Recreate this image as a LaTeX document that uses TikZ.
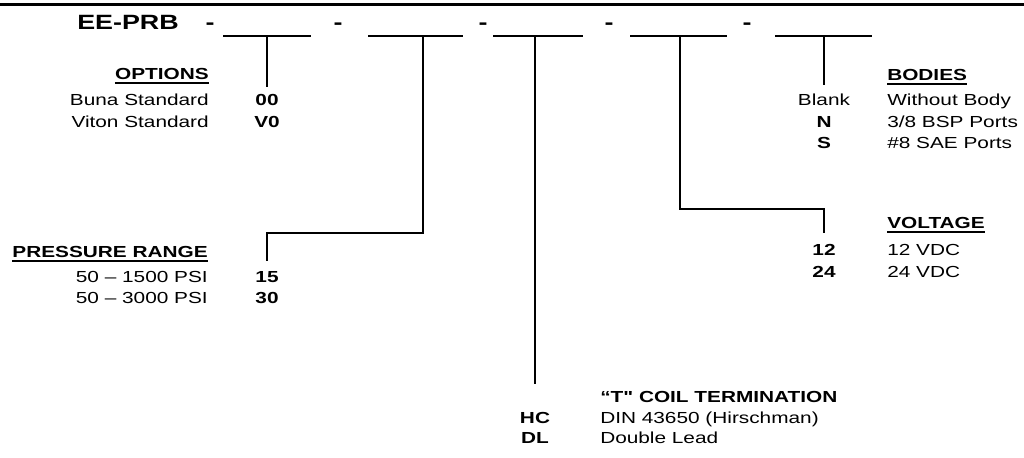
\documentclass[tikz,border=0pt]{standalone}
\usepackage{fontspec}
\setmainfont{Liberation Sans}[FakeStretch=1.3,Ligatures=TeXOff]
\usetikzlibrary{positioning,calc}

\begin{document}
\begin{tikzpicture}[
  x=0.75pt,y=-0.75pt,
  txt/.style={inner sep=0pt,font=\fontsize{12}{14}\selectfont},
  code/.style={inner sep=0pt,anchor=base,font=\fontsize{12}{14}\selectfont\bfseries},
  head/.style={inner sep=0pt,font=\fontsize{12}{14}\selectfont\bfseries},
  title/.style={inner sep=0pt,anchor=base,font=\fontsize{15.5}{18}\selectfont\bfseries},
  slot/.style={line width=1.5pt},
  lead/.style={line width=1.5pt},
  uline/.style={line width=1.3pt},
]
  \useasboundingbox (0,0) rectangle (1024,457);
  \draw[line width=2pt] (0,4.7) -- (1024,4.7);

  % part number and blanks
  \node[title,anchor=base west] (pn) at (77,29) {EE-PRB};
  \foreach \i/\x in {1/210,2/338,3/483,4/609,5/747}
    \node[title] (d\i) at (\x,29) {-};
  \foreach \i/\a/\b/\t in {1/223/311/267,2/368/463/423,3/493/583/535,
      4/630/727/680,5/775/872/824}{
    \draw[slot] (\a,36) -- (\b,36);
    \coordinate (s\i) at (\t,36);
  }
  \coordinate (k2) at (0,233);
  \coordinate (k4) at (0,209);

  % options
  \node[head,anchor=base east] (hopt) at (209,79) {OPTIONS};
  \node[txt,anchor=base east] (buna) at (209,105) {Buna Standard};
  \node[txt,anchor=base east] (viton) at (209,127) {Viton Standard};
  \node[code] (c00) at (267,105) {00};
  \node[code] (cV0) at (267,127) {V0};

  % pressure range
  \node[head,anchor=base east] (hpr) at (208,257) {PRESSURE RANGE};
  \node[txt,anchor=base east] (p15) at (208,282) {50 – 1500 PSI};
  \node[txt,anchor=base east] (p30) at (208,303) {50 – 3000 PSI};
  \node[code] (c15) at (267,282) {15};
  \node[code] (c30) at (267,303) {30};

  % coil termination
  \node[head,anchor=base west] (hcoil) at (600,402) {“T" COIL TERMINATION};
  \node[code] (cHC) at (535,423) {HC};
  \node[code] (cDL) at (535,443) {DL};
  \node[txt,anchor=base west] (din) at (600,423) {DIN 43650 (Hirschman)};
  \node[txt,anchor=base west] (dlead) at (600,443) {Double Lead};

  % voltage
  \node[head,anchor=base west] (hvolt) at (887,228) {VOLTAGE};
  \node[code] (c12) at (824,255) {12};
  \node[code] (c24) at (824,277) {24};
  \node[txt,anchor=base west] (v12) at (887,255) {12 VDC};
  \node[txt,anchor=base west] (v24) at (887,277) {24 VDC};

  % bodies
  \node[head,anchor=base west] (hbod) at (887,80) {BODIES};
  \node[txt,anchor=base] (cbl) at (824,105) {Blank};
  \node[code] (cN) at (824,127) {N};
  \node[code] (cS) at (824,148) {S};
  \node[txt,anchor=base west] (nobody) at (887,105) {Without Body};
  \node[txt,anchor=base west] (bsp) at (887,127) {3/8 BSP Ports};
  \node[txt,anchor=base west] (sae) at (887,148) {\#8 SAE Ports};

  \foreach \h in {hopt,hpr,hvolt,hbod}
    \draw[uline] ([yshift=-3pt]\h.base west) -- ([yshift=-3pt]\h.base east);

  % leads
  \draw[lead,shorten >=5pt] (s1) -- (c00.north);
  \draw[lead,shorten >=7pt] (s2) |- (k2 -| c15) -- (c15.north);
  \draw[lead,shorten >=21pt] (s3) -- (cHC.north);
  \draw[lead,shorten >=8pt] (s4) |- (k4 -| c12) -- (c12.north);
  \draw[lead,shorten >=6pt] (s5) -- (cbl.north);
\end{tikzpicture}
\end{document}
